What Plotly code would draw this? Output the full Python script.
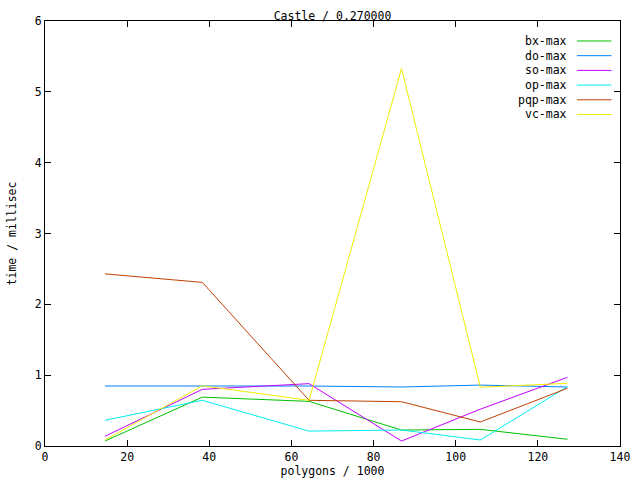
import plotly.graph_objects as go

x_polygons = [14.6, 38.3, 64.3, 86.8, 106.0, 127.2]
series_names = ["bx-max", "do-max", "so-max", "op-max", "pqp-max", "vc-max"]
bx_max = [0.07, 0.69, 0.63, 0.225, 0.235, 0.095]
do_max = [0.847, 0.847, 0.847, 0.833, 0.86, 0.833]
so_max = [0.137, 0.80, 0.88, 0.07, 0.52, 0.97]
op_max = [0.363, 0.645, 0.21, 0.226, 0.085, 0.837]
pqp_max = [2.43, 2.31, 0.645, 0.625, 0.339, 0.815]
vc_max = [0.085, 0.85, 0.645, 5.33, 0.83, 0.885]
colors = ["#00c000", "#0080ff", "#c000ff", "#00eeee", "#c04000", "#eeee00"]
x_ticks = [0, 20, 40, 60, 80, 100, 120, 140]
y_ticks = [0, 1, 2, 3, 4, 5, 6]

FONT = "DejaVu Sans Mono"
fig = go.Figure()
all_series = [bx_max, do_max, so_max, op_max, pqp_max, vc_max]
for name, ys, c in zip(series_names, all_series, colors):
    fig.add_trace(go.Scatter(x=x_polygons, y=ys, mode="lines", name=name,
                             line=dict(color=c, width=1), showlegend=False))

# gnuplot-style legend: text right-aligned, then line sample
row0 = 0.953
step = 0.0346
for i, (name, c) in enumerate(zip(series_names, colors)):
    yy = row0 - i * step
    fig.add_annotation(x=0.911, y=yy, xref="paper", yref="paper", text=name,
                       showarrow=False, xanchor="right", yanchor="middle",
                       font=dict(family=FONT, size=11.5, color="black"))
    fig.add_shape(type="line", xref="paper", yref="paper", x0=0.925, x1=0.985,
                  y0=yy, y1=yy, line=dict(color=c, width=1))

axis_common = dict(showline=True, linecolor="black", linewidth=1, mirror="ticks",
                   ticks="inside", ticklen=6, tickcolor="black", showgrid=False,
                   zeroline=False, automargin=False,
                   tickfont=dict(family=FONT, size=11.5, color="black"))
fig.update_xaxes(range=[0, 140], tickvals=x_ticks,
                 title=dict(text="polygons / 1000", font=dict(family=FONT, size=11.5, color="black"), standoff=4),
                 **axis_common)
fig.update_yaxes(range=[0, 6], tickvals=y_ticks,
                 title=dict(text="time / millisec", font=dict(family=FONT, size=11.5, color="black"), standoff=15),
                 **axis_common)
fig.update_layout(
    width=640, height=480,
    margin=dict(l=45, r=20, t=21, b=34, autoexpand=False),
    paper_bgcolor="white", plot_bgcolor="white",
    title=dict(text="Castle / 0.270000", x=0.5, xref="paper", xanchor="center", y=0.967, yanchor="middle",
               font=dict(family=FONT, size=11.5, color="black")),
)
fig.write_html("out.html", config={"displayModeBar": False},
               post_script="document.body.style.margin='0';document.body.style.overflow='hidden';")
